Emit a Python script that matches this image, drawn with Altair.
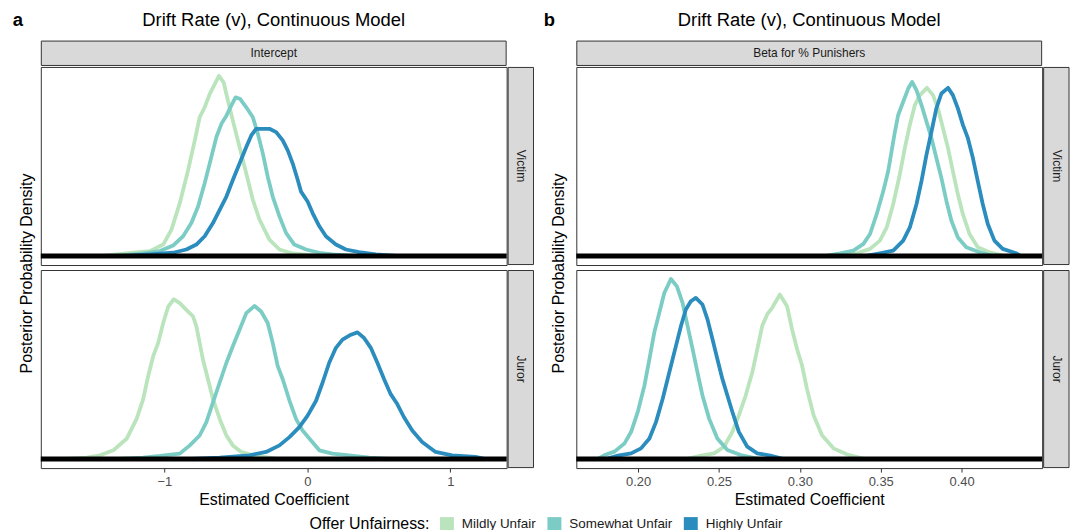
import altair as alt
import pandas as pd

LEVELS = ["Mildly Unfair", "Somewhat Unfair", "Highly Unfair"]
COLORS = ["#bae4bc", "#7bccc4", "#2b8cbe"]
FONT = "Liberation Sans"

# ---- posterior densities, panel a (Intercept) ----
a_victim_mild_x = [-1.45, -1.217, -1.101, -1.008, -0.950, -0.892, -0.834, -0.787, -0.753, -0.718, -0.683, -0.648,
                   -0.618, -0.585, -0.555, -0.521, -0.474, -0.427, -0.381, -0.334, -0.265, -0.195, -0.102, 0.10]
a_victim_mild_d = [0.0, 0.043, 0.065, 0.151, 0.347, 0.695, 1.129, 1.520, 1.825, 1.956, 2.129, 2.259,
                   2.368, 2.282, 2.042, 1.781, 1.434, 1.086, 0.738, 0.477, 0.216, 0.086, 0.034, 0.0]

a_victim_some_x = [-1.35, -1.148, -1.031, -0.939, -0.869, -0.811, -0.764, -0.718, -0.671, -0.636, -0.601, -0.566,
                   -0.532, -0.502, -0.469, -0.427, -0.381, -0.346, -0.311, -0.277, -0.242, -0.195, -0.149, -0.091,
                   -0.009, 0.084, 0.176, 0.35]
a_victim_some_d = [0.0, 0.034, 0.065, 0.138, 0.260, 0.434, 0.652, 0.956, 1.304, 1.565, 1.738, 1.846,
                   1.977, 2.086, 2.064, 1.956, 1.825, 1.608, 1.347, 1.043, 0.782, 0.522, 0.304, 0.151,
                   0.086, 0.043, 0.021, 0.0]

a_victim_high_x = [-1.30, -1.101, -0.939, -0.846, -0.776, -0.718, -0.660, -0.613, -0.566, -0.521, -0.474, -0.427,
                   -0.392, -0.358, -0.311, -0.265, -0.218, -0.172, -0.137, -0.102, -0.067, -0.044, 0.002, 0.037,
                   0.084, 0.130, 0.200, 0.270, 0.362, 0.479, 0.65]
a_victim_high_d = [0.0, 0.021, 0.043, 0.086, 0.151, 0.260, 0.434, 0.608, 0.782, 0.999, 1.216, 1.434,
                   1.586, 1.673, 1.673, 1.673, 1.630, 1.520, 1.390, 1.216, 0.999, 0.847, 0.717, 0.565,
                   0.391, 0.260, 0.151, 0.086, 0.052, 0.021, 0.0]

a_juror_mild_x = [-1.72, -1.542, -1.449, -1.357, -1.264, -1.194, -1.148, -1.113, -1.078, -1.043, -1.008, -0.973,
                  -0.934, -0.892, -0.846, -0.799, -0.776, -0.753, -0.730, -0.695, -0.660, -0.613, -0.566, -0.521,
                  -0.462, -0.381, -0.20]
a_juror_mild_d = [0.0, 0.020, 0.050, 0.115, 0.267, 0.528, 0.789, 1.093, 1.353, 1.528, 1.789, 2.005,
                  2.102, 2.050, 1.962, 1.875, 1.744, 1.528, 1.310, 1.050, 0.789, 0.528, 0.310, 0.180,
                  0.094, 0.050, 0.0]

a_juror_some_x = [-1.35, -1.148, -1.031, -0.892, -0.822, -0.753, -0.706, -0.660, -0.613, -0.566, -0.521, -0.474,
                  -0.427, -0.369, -0.323, -0.277, -0.242, -0.207, -0.172, -0.125, -0.079, -0.033, 0.026, 0.084,
                  0.176, 0.293, 0.432, 0.60]
a_juror_some_d = [0.0, 0.020, 0.041, 0.072, 0.180, 0.310, 0.485, 0.746, 1.007, 1.267, 1.484, 1.701,
                  1.919, 2.014, 1.940, 1.789, 1.528, 1.223, 1.050, 0.770, 0.528, 0.375, 0.245, 0.115,
                  0.072, 0.050, 0.020, 0.0]

a_juror_high_x = [-0.85, -0.613, -0.404, -0.288, -0.195, -0.125, -0.056, 0.002, 0.061, 0.107, 0.153, 0.200,
                  0.246, 0.305, 0.351, 0.397, 0.444, 0.490, 0.537, 0.583, 0.629, 0.676, 0.734, 0.803,
                  0.897, 1.013, 1.176, 1.246]
a_juror_high_d = [0.0, 0.020, 0.050, 0.094, 0.180, 0.289, 0.420, 0.571, 0.767, 1.007, 1.267, 1.463,
                  1.571, 1.636, 1.666, 1.593, 1.463, 1.267, 1.050, 0.854, 0.724, 0.550, 0.375, 0.224,
                  0.094, 0.050, 0.029, 0.0]

# ---- posterior densities, panel b (Beta for % Punishers) ----
b_victim_mild_x = [0.325, 0.3352, 0.3434, 0.3495, 0.3537, 0.3577, 0.3618, 0.3649, 0.3680, 0.3711, 0.3742, 0.3786,
                   0.3823, 0.3854, 0.3885, 0.3916, 0.3946, 0.3977, 0.4008, 0.4049, 0.4100, 0.4172, 0.427]
b_victim_mild_d = [0.0, 0.52, 1.34, 2.88, 5.35, 9.70, 15.28, 20.22, 24.57, 28.29, 30.15, 31.51,
                   30.15, 27.66, 23.94, 20.22, 15.89, 11.56, 7.84, 4.13, 1.64, 0.71, 0.0]

b_victim_some_x = [0.315, 0.3249, 0.3331, 0.3393, 0.3434, 0.3475, 0.3516, 0.3546, 0.3567, 0.3588, 0.3608, 0.3639,
                   0.3670, 0.3694, 0.3721, 0.3752, 0.3783, 0.3814, 0.3844, 0.3875, 0.3906, 0.3937, 0.3977, 0.4029,
                   0.4111, 0.42]
b_victim_some_d = [0.0, 0.52, 1.02, 2.27, 4.13, 7.84, 12.17, 15.89, 19.61, 23.33, 26.43, 28.90,
                   31.38, 32.62, 31.08, 28.29, 25.19, 22.08, 18.36, 14.65, 10.32, 6.60, 3.49, 1.64,
                   0.71, 0.0]

b_victim_high_x = [0.340, 0.3495, 0.3577, 0.3639, 0.3680, 0.3721, 0.3752, 0.3783, 0.3814, 0.3844, 0.3875, 0.3916,
                   0.3946, 0.3977, 0.4008, 0.4039, 0.4070, 0.4100, 0.4131, 0.4162, 0.4203, 0.4254, 0.4337, 0.4367]
b_victim_high_d = [0.0, 0.52, 1.02, 2.88, 5.35, 9.70, 14.03, 19.00, 23.33, 27.66, 30.45, 31.51,
                   30.15, 27.66, 24.57, 22.08, 18.36, 14.03, 9.70, 5.99, 2.88, 1.34, 0.52, 0.0]

b_juror_mild_x = [0.230, 0.2388, 0.2470, 0.2531, 0.2583, 0.2623, 0.2665, 0.2706, 0.2737, 0.2767, 0.2798, 0.2829,
                  0.2876, 0.2921, 0.2952, 0.2983, 0.3014, 0.3044, 0.3085, 0.3137, 0.3208, 0.3290, 0.340]
b_juror_mild_d = [0.0, 0.65, 1.08, 2.32, 5.11, 8.20, 11.91, 16.26, 20.59, 24.93, 27.10, 28.35,
                  30.82, 28.64, 24.31, 20.59, 17.49, 13.16, 8.20, 4.48, 2.01, 0.89, 0.0]

b_juror_some_x = [0.1749, 0.1793, 0.1854, 0.1916, 0.1957, 0.1998, 0.2039, 0.2070, 0.2100, 0.2131, 0.2162, 0.2203,
                  0.2240, 0.2275, 0.2306, 0.2337, 0.2367, 0.2398, 0.2439, 0.2490, 0.2552, 0.2634, 0.275]
b_juror_some_d = [0.0, 0.76, 1.39, 2.94, 5.11, 8.83, 13.77, 18.74, 23.70, 27.42, 31.13, 33.74,
                  32.36, 29.28, 24.93, 20.59, 16.26, 11.91, 7.58, 3.87, 1.69, 0.76, 0.0]

b_juror_high_x = [0.180, 0.1875, 0.1957, 0.2018, 0.2070, 0.2111, 0.2152, 0.2193, 0.2234, 0.2265, 0.2295, 0.2326,
                  0.2357, 0.2398, 0.2429, 0.2460, 0.2490, 0.2521, 0.2552, 0.2583, 0.2623, 0.2675, 0.2737, 0.2818,
                  0.290]
b_juror_high_d = [0.0, 0.65, 1.08, 2.01, 3.87, 6.97, 11.30, 16.26, 21.21, 24.93, 28.03, 29.57,
                  30.20, 28.96, 26.17, 22.45, 18.74, 15.02, 11.91, 8.83, 5.11, 2.32, 1.08, 0.65,
                  0.0]

curves = [
    ("a", "Victim", "Mildly Unfair", a_victim_mild_x, a_victim_mild_d),
    ("a", "Victim", "Somewhat Unfair", a_victim_some_x, a_victim_some_d),
    ("a", "Victim", "Highly Unfair", a_victim_high_x, a_victim_high_d),
    ("a", "Juror", "Mildly Unfair", a_juror_mild_x, a_juror_mild_d),
    ("a", "Juror", "Somewhat Unfair", a_juror_some_x, a_juror_some_d),
    ("a", "Juror", "Highly Unfair", a_juror_high_x, a_juror_high_d),
    ("b", "Victim", "Mildly Unfair", b_victim_mild_x, b_victim_mild_d),
    ("b", "Victim", "Somewhat Unfair", b_victim_some_x, b_victim_some_d),
    ("b", "Victim", "Highly Unfair", b_victim_high_x, b_victim_high_d),
    ("b", "Juror", "Mildly Unfair", b_juror_mild_x, b_juror_mild_d),
    ("b", "Juror", "Somewhat Unfair", b_juror_some_x, b_juror_some_d),
    ("b", "Juror", "Highly Unfair", b_juror_high_x, b_juror_high_d),
]

rows = []
for side, role, level, xs, ds in curves:
    for x, d in zip(xs, ds):
        rows.append({"side": side, "role": role, "level": level, "x": x, "density": d})
df = pd.DataFrame(rows)

W, H = 468, 199
X_DOMAIN = {"a": [-1.864, 1.394], "b": [0.1618, 0.4498]}
X_TICKS = {"a": [-1, 0, 1], "b": [0.20, 0.25, 0.30, 0.35, 0.40]}
X_FORMAT = {"a": "d", "b": ".2f"}
STRIP_TOP = {"a": "Intercept", "b": "Beta for % Punishers"}
TAG_X = {"a": -23, "b": -27}
YTITLE_X = {"a": -14, "b": -17}
TITLE = "Drift Rate (v), Continuous Model"

legend = alt.Legend(
    orient="none", legendX=270, legendY=452, direction="horizontal",
    title="Offer Unfairness:", titleOrient="left", titleFont=FONT, titleFontSize=16,
    titleFontWeight="normal", titleColor="black", titlePadding=10, titleBaseline="alphabetic",
    labelFont=FONT, labelFontSize=13.5, labelColor="#1a1a1a", labelOffset=8,
    symbolType="square", symbolSize=49, symbolStrokeWidth=7, symbolOpacity=1,
    columnPadding=0,
)


def cell(side, role):
    sub = df[(df.side == side) & (df.role == role)]
    ymax = df.loc[df.side == side, "density"].max()
    yscale = alt.Scale(domain=[-0.05 * ymax, 1.05 * ymax], nice=False, zero=False)
    xscale = alt.Scale(domain=X_DOMAIN[side], nice=False, zero=False)
    if role == "Juror":
        xaxis = alt.Axis(
            values=X_TICKS[side], format=X_FORMAT[side], title="Estimated Coefficient",
            domain=False, grid=False, tickSize=4, tickColor="#333333", tickWidth=1,
            labelFont=FONT, labelFontSize=13, labelColor="#4d4d4d", labelPadding=3,
            titleFont=FONT, titleFontSize=16, titleFontWeight="normal", titleColor="black",
            titlePadding=4,
        )
    else:
        xaxis = None

    lines = alt.Chart(sub).mark_line(strokeWidth=3.8, strokeJoin="round", clip=True).encode(
        x=alt.X("x:Q", scale=xscale, axis=xaxis),
        y=alt.Y("density:Q", scale=yscale, axis=None),
        color=alt.Color("level:N", scale=alt.Scale(domain=LEVELS, range=COLORS), legend=legend),
    )
    baseline = alt.Chart(pd.DataFrame({"density": [0.0]})).mark_rule(
        color="black", strokeWidth=5
    ).encode(y=alt.Y("density:Q", scale=yscale, axis=None))

    side_strip = alt.Chart(pd.DataFrame({"label": [role]}))
    side_box = side_strip.mark_rect(fill="#d9d9d9", stroke="#333333", strokeWidth=1).encode(
        x=alt.value(W + 1.5), x2=alt.value(W + 27), y=alt.value(0.5), y2=alt.value(H - 0.5)
    )
    side_text = side_strip.mark_text(angle=90, font=FONT, fontSize=12, color="#1a1a1a").encode(
        x=alt.value(W + 14.5), y=alt.value(H / 2), text="label:N"
    )
    layers = [lines, baseline, side_box, side_text]

    if role == "Victim":
        head = alt.Chart(pd.DataFrame({
            "strip": [STRIP_TOP[side]], "title": [TITLE], "tag": [side],
            "ytitle": ["Posterior Probability Density"],
        }))
        layers += [
            head.mark_rect(fill="#d9d9d9", stroke="#333333", strokeWidth=1).encode(
                x=alt.value(0.5), x2=alt.value(W - 0.5), y=alt.value(-26), y2=alt.value(-1.5)
            ),
            head.mark_text(font=FONT, fontSize=12, color="#1a1a1a").encode(
                x=alt.value(W / 2), y=alt.value(-13.5), text="strip:N"
            ),
            head.mark_text(font=FONT, fontSize=18.5, color="black").encode(
                x=alt.value(W / 2), y=alt.value(-47), text="title:N"
            ),
            head.mark_text(font=FONT, fontSize=18.5, fontWeight="bold", color="black").encode(
                x=alt.value(TAG_X[side]), y=alt.value(-47), text="tag:N"
            ),
            head.mark_text(font=FONT, fontSize=16, angle=270, color="black").encode(
                x=alt.value(YTITLE_X[side]), y=alt.value(207.5), text="ytitle:N"
            ),
        ]
    return alt.layer(*layers).properties(width=W, height=H)


left = alt.vconcat(cell("a", "Victim"), cell("a", "Juror"), spacing=5, bounds="flush")
right = alt.vconcat(cell("b", "Victim"), cell("b", "Juror"), spacing=5, bounds="flush")

chart = (
    alt.hconcat(left, right, spacing=8, bounds="full")
    .resolve_scale(color="shared")
    .configure_view(stroke="#333333", strokeWidth=1)
    .properties(padding={"left": 12, "top": 9, "right": 3, "bottom": 0}, background="white")
)

chart.save("out.html", embed_options={"renderer": "svg", "actions": False})
